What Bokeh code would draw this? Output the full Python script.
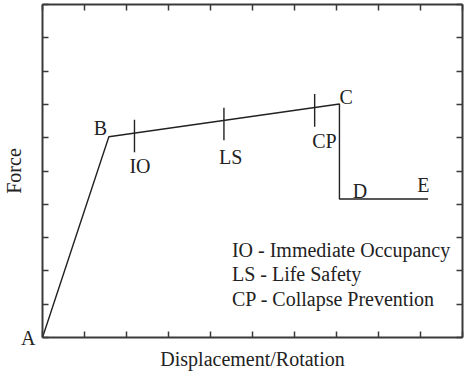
from bokeh.plotting import figure
from bokeh.models import (ColumnDataSource, LabelSet, Label, LinearAxis,
                          SingleIntervalTicker, Range1d)
from bokeh.core.properties import value
from bokeh.embed import file_html
from bokeh.resources import INLINE

# ---- data ----
curve_names = ["A", "B", "C", "D", "E"]
curve_x = [0.0, 1.58, 7.07, 7.07, 9.18]
curve_y = [0.0, 6.03, 7.01, 4.16, 4.16]

level_names = ["IO", "LS", "CP"]
level_x = [2.19, 4.32, 6.48]
level_y = [6.14, 6.50, 6.91]

legend_lines = ["IO - Immediate Occupancy", "LS - Life Safety", "CP - Collapse Prevention"]

x_label = "Displacement/Rotation"
y_label = "Force"
tick_values = list(range(0, 11))

# ---- styling ----
FONT = "Liberation Serif"
FS = "20px"
INK = "#222222"
FRAME = "#3a3a3a"
BASE_FIX = 4  # px lift to compensate baseline placement

p = figure(width=466, height=372, output_backend="svg", toolbar_location=None,
           x_range=Range1d(0, 10), y_range=Range1d(0, 10),
           min_border_left=30, min_border_right=0, min_border_top=0, min_border_bottom=28,
           x_axis_label=x_label, y_axis_label=y_label)
p.grid.visible = False
p.outline_line_color = None
p.background_fill_color = "white"
p.border_fill_color = "white"

p.add_layout(LinearAxis(), "right")
p.add_layout(LinearAxis(), "above")

for ax in p.axis:
    ax.ticker = SingleIntervalTicker(interval=1)
    ax.minor_tick_line_color = None
    ax.major_tick_in = 6
    ax.major_tick_out = 0
    ax.major_tick_line_width = 1.5
    ax.major_tick_line_color = FRAME
    ax.axis_line_width = 2
    ax.axis_line_color = FRAME
    ax.major_label_text_font_size = "0px"
    ax.major_label_standoff = 0
    ax.axis_label_text_font = FONT
    ax.axis_label_text_font_size = FS
    ax.axis_label_text_font_style = "normal"
    ax.axis_label_text_color = INK

# left axis: the only tick label is the origin point name "A"
yax = p.left[0]
yax.major_label_text_font_size = FS
yax.major_label_text_font = FONT
yax.major_label_text_color = INK
yax.major_label_text_baseline = "alphabetic"
yax.major_label_standoff = 3
yax.major_label_overrides = {t: (curve_names[0] if t == curve_y[0] else "") for t in tick_values}
yax.axis_label_standoff = -7

xax = p.below[0]
xax.axis_label_standoff = 6

# curve
p.line(curve_x, curve_y, line_color=INK, line_width=1.4)

# performance level markers
tick_up, tick_down = 0.40, 0.58
p.segment(x0=level_x, y0=[v - tick_down for v in level_y],
          x1=level_x, y1=[v + tick_up for v in level_y],
          line_color=INK, line_width=1.4)

text_style = dict(text_font_size=FS, text_color=INK)

# point labels B..E
pt_dx = [-11.5, -8.5, 6.7, 20.5, -4.7]
pt_dy = [-2.0, 4.7, 3.3, 4.0, 9.7]
for name, x, y, dx, dy in list(zip(curve_names, curve_x, curve_y, pt_dx, pt_dy))[1:]:
    p.add_layout(Label(x=x, y=y, x_offset=dx, y_offset=dy + BASE_FIX, text=name,
                       text_align="center", text_baseline="alphabetic",
                       text_font=FONT, **text_style))

lv_dx = [5.5, 6.8, 9.8]
lv_dy = [-44.0 + BASE_FIX, -47.3 + BASE_FIX, -44.7 + BASE_FIX]
src_lv = ColumnDataSource(dict(x=level_x, y=level_y, t=level_names, dx=lv_dx, dy=lv_dy))
p.add_layout(LabelSet(x="x", y="y", text="t", source=src_lv, x_offset="dx", y_offset="dy",
                      text_align="center", text_baseline="alphabetic",
                      text_font=value(FONT), **text_style))

# legend text
for i, line in enumerate(legend_lines):
    p.add_layout(Label(x=4.51, y=2.52, y_offset=-24.5 * i + BASE_FIX, text=line,
                       text_align="left", text_baseline="alphabetic",
                       text_font=FONT, **text_style))

open("out.html", "w").write(file_html(p, INLINE))
